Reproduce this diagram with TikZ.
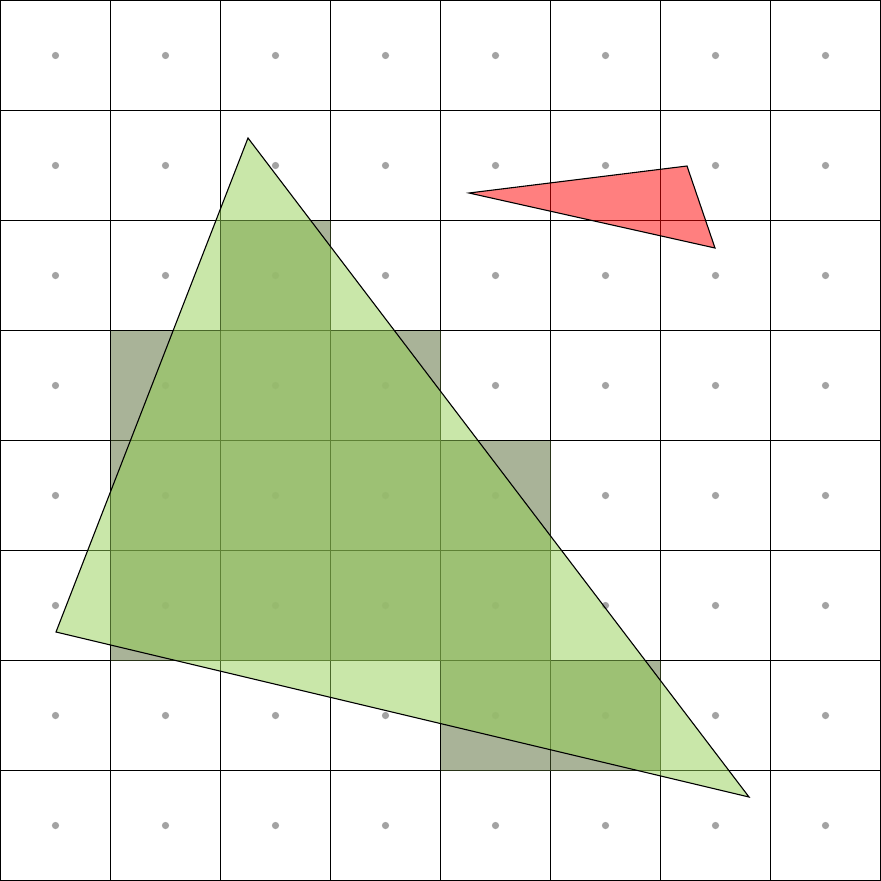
\documentclass[tikz,border=0pt]{standalone}
\definecolor{cellshade}{RGB}{83,103,49}
\definecolor{trigreen}{RGB}{147,207,83}
\definecolor{trired}{RGB}{255,0,0}
\definecolor{dotgray}{RGB}{163,163,163}
\tikzset{
  gridline/.style={draw=black,line width=1.2pt},
  cellfill/.style={fill=cellshade,fill opacity=0.5},
  centerdot/.style={fill=dotgray},
  dotveil/.style={fill=white,fill opacity=0.75},
  bigtri/.style={fill=trigreen,fill opacity=0.5,draw=black,line width=1.1pt,line join=miter},
  smalltri/.style={fill=trired,fill opacity=0.5,draw=black,line width=1.1pt,line join=miter}
}
\begin{document}
\begin{tikzpicture}[x=1pt,y=-1pt]
\useasboundingbox (0,0) rectangle (881,881);
% grid
\foreach \i in {0,...,8}{
  \draw[gridline] (110*\i+0.5,0) -- (110*\i+0.5,881);
  \draw[gridline] (0,110*\i+0.5) -- (881,110*\i+0.5);
}
% dots
\foreach \c in {0,...,7}{
  \foreach \r in {0,...,7}{
    \fill[centerdot] (110*\c+55.5,110*\r+55.5) circle (3.6);
  }
}
% shaded cells
\foreach \c/\r in {2/2, 1/3,2/3,3/3, 1/4,2/4,3/4,4/4, 1/5,2/5,3/5,4/5, 4/6,5/6}{
  \fill[dotveil] (110*\c+55.5,110*\r+55.5) circle (4.2);
  \fill[cellfill] (110*\c+0.5,110*\r+0.5) rectangle ++(110,110);
}
% triangles
\coordinate (g1) at (248,138);
\coordinate (g2) at (56,632);
\coordinate (g3) at (749,797);
\path[bigtri] (g1) -- (g2) -- (g3) -- cycle;
\coordinate (r1) at (469,193);
\coordinate (r2) at (687,166);
\coordinate (r3) at (715,248);
\path[smalltri] (r1) -- (r2) -- (r3) -- cycle;
\end{tikzpicture}
\end{document}
